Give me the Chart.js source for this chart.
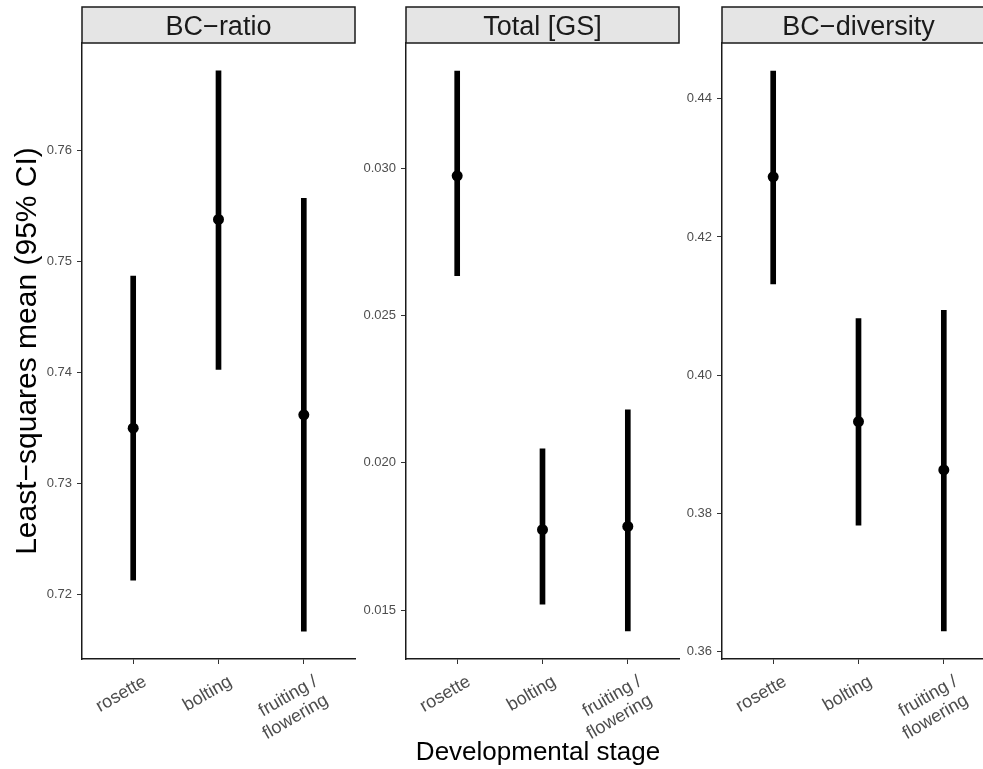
<!DOCTYPE html>
<html>
<head>
<meta charset="utf-8">
<script src="https://cdn.jsdelivr.net/npm/chart.js@4.4.1/dist/chart.umd.min.js"></script>
<style>
  body { margin: 0; width: 983px; height: 769px; overflow: hidden; background: #fff; position: relative;
         font-family: "Liberation Sans", Arial, Helvetica, sans-serif; }
  canvas { position: absolute; top: 0; }
  #xtitle { position: absolute; left: 0; top: 736px; width: 1076px; text-align: center;
            font-size: 26px; line-height: 30px; color: #000; }
</style>
</head>
<body>
<canvas id="p1" width="367" height="769" style="left:0px"></canvas>
<canvas id="p2" width="345" height="769" style="left:346px"></canvas>
<canvas id="p3" width="345" height="769" style="left:662px"></canvas>
<div id="xtitle">Developmental stage</div>
<script>
// categories (x axis)
const stages = ['rosette', 'bolting', ['fruiting /', 'flowering']];

// BC-ratio
const ratioMean = [0.7350, 0.7538, 0.7362];
const ratioLow  = [0.7213, 0.7403, 0.7167];
const ratioHigh = [0.7487, 0.7672, 0.7557];
const ratioTicks = [0.72, 0.73, 0.74, 0.75, 0.76];

// Total [GS]
const gsMean = [0.02974, 0.01773, 0.01784];
const gsLow  = [0.02635, 0.01520, 0.01429];
const gsHigh = [0.03330, 0.02047, 0.02180];
const gsTicks = [0.015, 0.020, 0.025, 0.030];

// BC-diversity
const divMean = [0.4287, 0.3933, 0.3863];
const divLow  = [0.4132, 0.3783, 0.3630];
const divHigh = [0.4440, 0.4082, 0.4094];
const divTicks = [0.36, 0.38, 0.40, 0.42, 0.44];

const FONT = '"Liberation Sans", Arial, Helvetica, sans-serif';

// grey facet strip above each panel
const stripPlugin = {
    id: 'strip',
    afterDraw(chart, args, opts) {
        const ctx = chart.ctx;
        const a = chart.chartArea;
        ctx.save();
        ctx.fillStyle = '#e5e5e5';
        ctx.fillRect(a.left, 7, a.right - a.left, 36);
        ctx.strokeStyle = '#1a1a1a';
        ctx.lineWidth = 1.5;
        ctx.strokeRect(a.left, 7, a.right - a.left, 36);
        ctx.fillStyle = '#1a1a1a';
        ctx.font = '27px ' + FONT;
        ctx.textAlign = 'center';
        ctx.textBaseline = 'alphabetic';
        ctx.fillText(opts.text, (a.left + a.right) / 2, 35);
        ctx.restore();
    }
};

function makePanel(id, title, mean, low, high, tickVals, decimals, yMin, yMax, yAxisWidth, yTitle) {
    const ctx = document.getElementById(id).getContext('2d');
    new Chart(ctx, {
        type: 'bar',
        data: {
            datasets: [
                {
                    type: 'line',
                    data: mean.map((v, i) => ({ x: i + 1, y: v })),
                    showLine: false,
                    pointRadius: 5.5,
                    pointBackgroundColor: '#000',
                    pointBorderWidth: 0,
                    order: 1
                },
                {
                    type: 'bar',
                    data: low.map((v, i) => ({ x: i + 1, y: [v, high[i]] })),
                    backgroundColor: '#000',
                    barThickness: 5,
                    order: 2
                }
            ]
        },
        options: {
            responsive: false,
            animation: false,
            devicePixelRatio: 1,
            layout: { padding: { top: 43, right: 12, left: 0, bottom: 0 } },
            plugins: {
                legend: { display: false },
                tooltip: { enabled: false },
                strip: { text: title }
            },
            scales: {
                x: {
                    type: 'linear',
                    min: 0.4,
                    max: 3.6,
                    offset: false,
                    afterBuildTicks: s => { s.ticks = [1, 2, 3].map(v => ({ value: v })); },
                    afterFit: s => { s.height = 110; },
                    grid: { display: true, offset: false, drawOnChartArea: false, drawTicks: true,
                            tickLength: 5, color: '#333', lineWidth: 1 },
                    border: { display: true, color: '#1a1a1a', width: 1.5 },
                    ticks: {
                        autoSkip: false,
                        minRotation: 30,
                        maxRotation: 30,
                        padding: 7,
                        labelOffset: 12,
                        color: '#4d4d4d',
                        font: { family: FONT, size: 18 },
                        callback: v => stages[v - 1]
                    }
                },
                y: {
                    type: 'linear',
                    min: yMin,
                    max: yMax,
                    beginAtZero: false,
                    afterBuildTicks: s => { s.ticks = tickVals.map(v => ({ value: v })); },
                    afterFit: s => { s.width = yAxisWidth; },
                    grid: { display: true, drawOnChartArea: false, drawTicks: true,
                            tickLength: 5, color: '#333', lineWidth: 1 },
                    border: { display: true, color: '#1a1a1a', width: 1.5 },
                    ticks: {
                        padding: 5,
                        color: '#4d4d4d',
                        font: { family: FONT, size: 13 },
                        callback: v => v.toFixed(decimals)
                    },
                    title: {
                        display: !!yTitle,
                        text: yTitle || '',
                        color: '#000',
                        font: { family: FONT, size: 30 },
                        padding: { top: 10, bottom: 0 }
                    }
                }
            }
        },
        plugins: [stripPlugin]
    });
}

makePanel('p1', 'BC\u2212ratio', ratioMean, ratioLow, ratioHigh, ratioTicks, 2, 0.7142, 0.7697, 82,
          'Least\u2212squares mean (95% CI)');
makePanel('p2', 'Total [GS]', gsMean, gsLow, gsHigh, gsTicks, 3, 0.01334, 0.03425, 60, null);
makePanel('p3', 'BC\u2212diversity', divMean, divLow, divHigh, divTicks, 2, 0.35895, 0.44805, 60, null);
</script>
</body>
</html>
